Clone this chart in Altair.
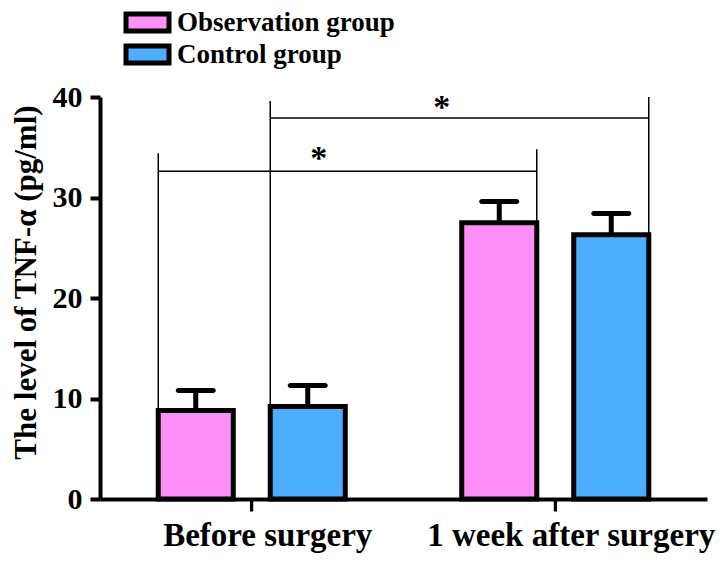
import altair as alt
import pandas as pd

categories = ["Before surgery", "1 week after surgery"]
groups = ["Observation group", "Control group"]
colors = ["#FF8FF8", "#4DADFF"]

bar_cat = ["Before surgery", "Before surgery", "1 week after surgery", "1 week after surgery"]
bar_group = ["Observation group", "Control group", "Observation group", "Control group"]
means = [8.8, 9.2, 27.5, 26.3]
sds = [2.0, 2.1, 2.1, 2.1]

# significance brackets (one per group): line level, tops of the two legs, star level
br_group = ["Observation group", "Control group"]
br_line = [32.6, 37.9]
br_left_top = [34.4, 39.6]
br_right_top = [34.8, 40.0]
br_star = [34.3, 39.4]

FONT = "Liberation Serif"
W, H = 607, 402

df = pd.DataFrame({"cat": bar_cat, "group": bar_group, "mean": means, "sd": sds})
df["upper"] = df["mean"] + df["sd"]

x_scale = alt.Scale(domain=categories, paddingInner=0, paddingOuter=0)
xo_scale = alt.Scale(domain=groups, paddingInner=0.33, paddingOuter=0.52)
y_scale = alt.Scale(domain=[0, 40], nice=False)
x_axis = alt.Axis(title=None, labelAngle=0, labelAlign="center", labelBaseline="top",
                  labelLimit=500, labelOverlap=False, ticks=True, tickSize=12, tickWidth=3,
                  tickColor="black", labelOffset=16)
y_axis = alt.Axis(title="The level of TNF-α (pg/ml)", values=[0, 10, 20, 30, 40], titleY=185)

bars = alt.Chart(df).mark_bar(stroke="black", strokeWidth=5, strokeJoin="miter").encode(
    x=alt.X("cat:N", scale=x_scale, axis=x_axis),
    xOffset=alt.XOffset("group:N", scale=xo_scale),
    y=alt.Y("mean:Q", scale=y_scale, axis=y_axis),
    fill=alt.Fill("group:N",
                  scale=alt.Scale(domain=groups, range=colors),
                  legend=alt.Legend(title=None, orient="none", legendX=34, legendY=-88,
                                    symbolType="M-2.15,-0.85H2.15V0.85H-2.15Z",
                                    symbolSize=400, symbolStrokeColor="black",
                                    symbolStrokeWidth=5, symbolOpacity=1,
                                    labelFont=FONT, labelFontWeight="bold", labelFontSize=27,
                                    labelColor="black", labelOffset=16, rowPadding=-5,
                                    padding=0, labelLimit=400)),
)

stems = alt.Chart(df).mark_rule(color="black", strokeWidth=5).encode(
    x=alt.X("cat:N", scale=x_scale, axis=x_axis), xOffset=alt.XOffset("group:N", scale=xo_scale),
    y=alt.Y("mean:Q", scale=y_scale, axis=y_axis), y2="upper:Q")

caps = alt.Chart(df).mark_tick(color="black", thickness=5, size=40, cornerRadius=2.5, opacity=1).encode(
    x=alt.X("cat:N", scale=x_scale, axis=x_axis), xOffset=alt.XOffset("group:N", scale=xo_scale),
    y=alt.Y("upper:Q", scale=y_scale, axis=y_axis))

# category tick marks under the x axis
cat_ticks = alt.Chart(pd.DataFrame({"cat": categories})).mark_rule(
    color="black", strokeWidth=3, y2Offset=12).encode(
    x=alt.X("cat:N", scale=x_scale, axis=x_axis),
    y=alt.Y(datum=0, scale=y_scale, axis=y_axis), y2=alt.Y2(datum=0))

layers = [stems, bars, caps, cat_ticks]

# pixel offsets of bar edges from category centre (style)
edge_offsets = {"Observation group": (-93.5, -18.5), "Control group": (18.5, 93.5)}
star_dx = {"Observation group": 67, "Control group": 190}

for i, g in enumerate(br_group):
    left_base = df[(df.cat == categories[0]) & (df.group == g)]["mean"].iloc[0]
    right_base = df[(df.cat == categories[1]) & (df.group == g)]["mean"].iloc[0]
    bdf = pd.DataFrame({
        "lcat": [categories[0]], "rcat": [categories[1]],
        "line": [br_line[i]], "ltop": [br_left_top[i]], "rtop": [br_right_top[i]],
        "lbase": [left_base], "rbase": [right_base], "star": [br_star[i]], "txt": ["*"],
    })
    dl, dr = edge_offsets[g]
    base = alt.Chart(bdf)
    layers.append(base.mark_rule(color="black", strokeWidth=1.5, xOffset=dl).encode(
        x=alt.X("lcat:N", scale=x_scale, axis=x_axis),
        y=alt.Y("ltop:Q", scale=y_scale, axis=y_axis), y2="lbase:Q"))
    layers.append(base.mark_rule(color="black", strokeWidth=1.5, xOffset=dr).encode(
        x=alt.X("rcat:N", scale=x_scale, axis=x_axis),
        y=alt.Y("rtop:Q", scale=y_scale, axis=y_axis), y2="rbase:Q"))
    layers.append(base.mark_rule(color="black", strokeWidth=1.5, xOffset=dl, x2Offset=dr).encode(
        x=alt.X("lcat:N", scale=x_scale, axis=x_axis), x2="rcat:N",
        y=alt.Y("line:Q", scale=y_scale, axis=y_axis)))
    layers.append(base.mark_text(font=FONT, fontWeight="bold", fontSize=34, color="black",
                                 dx=star_dx[g], baseline="middle", dy=5).encode(
        x=alt.X("lcat:N", scale=x_scale, axis=x_axis),
        y=alt.Y("star:Q", scale=y_scale, axis=y_axis), text="txt:N"))

chart = alt.layer(*layers).properties(
    width=W, height=H,
    autosize=alt.AutoSizeParams(type="none"),
    padding={"left": 92, "top": 89, "right": 9, "bottom": 60},
).configure_view(stroke=None).configure_axis(
    domainColor="black", domainWidth=4, tickColor="black", grid=False,
    labelFont=FONT, labelFontWeight="bold", labelColor="black",
    titleFont=FONT, titleFontWeight="bold", titleColor="black",
).configure_axisX(
    labelFontSize=33, labelPadding=8,
).configure_axisY(
    tickWidth=4, tickSize=10, labelFontSize=30, labelPadding=8,
    titleFontSize=31, titlePadding=10,
)

chart.save("out.html", embed_options={"renderer": "svg", "actions": False})
